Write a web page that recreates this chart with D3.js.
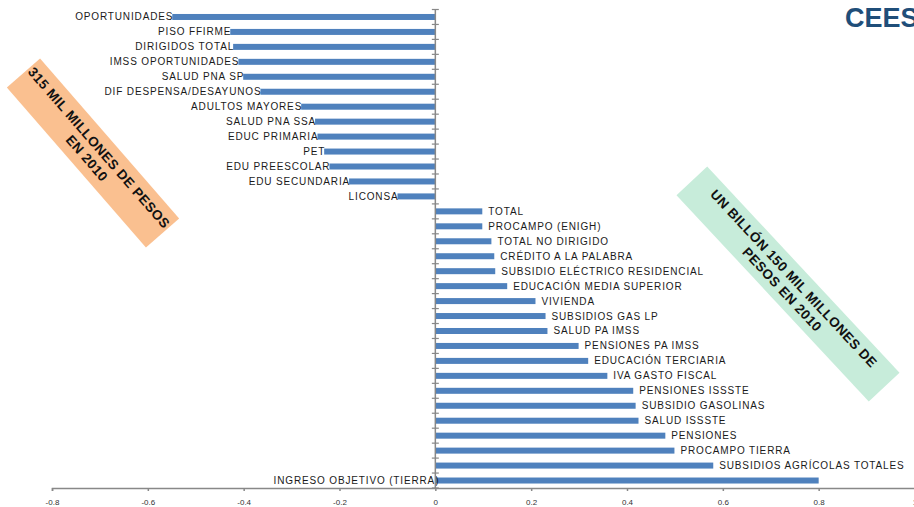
<!DOCTYPE html>
<html>
<head>
<meta charset="utf-8">
<script src="https://cdn.jsdelivr.net/npm/d3@7"></script>
<style>
  body { margin: 0; background: #fff; }
  svg { display: block; font-family: "Liberation Sans", Arial, sans-serif; }
  .lbl { font-size: 10px; letter-spacing: 0.85px; fill: #1a1a1a; }
  .xaxis text { font-size: 8px; fill: #333; }
  .box text { font-size: 13.5px; font-weight: bold; letter-spacing: 0.5px; fill: #111; }
</style>
</head>
<body>
<div id="chart"></div>
<script>
// categories top to bottom
var categories = [
  "OPORTUNIDADES", "PISO FFIRME", "DIRIGIDOS TOTAL", "IMSS OPORTUNIDADES",
  "SALUD PNA SP", "DIF DESPENSA/DESAYUNOS", "ADULTOS MAYORES", "SALUD PNA SSA",
  "EDUC PRIMARIA", "PET", "EDU PREESCOLAR", "EDU SECUNDARIA", "LICONSA",
  "TOTAL", "PROCAMPO (ENIGH)", "TOTAL NO DIRIGIDO", "CRÉDITO A LA PALABRA",
  "SUBSIDIO ELÉCTRICO RESIDENCIAL", "EDUCACIÓN MEDIA SUPERIOR", "VIVIENDA",
  "SUBSIDIOS GAS LP", "SALUD PA IMSS", "PENSIONES PA IMSS", "EDUCACIÓN TERCIARIA",
  "IVA GASTO FISCAL", "PENSIONES ISSSTE", "SUBSIDIO GASOLINAS", "SALUD ISSSTE",
  "PENSIONES", "PROCAMPO TIERRA", "SUBSIDIOS AGRÍCOLAS TOTALES", "INGRESO OBJETIVO (TIERRA)"
];
var values = [
  -0.549, -0.428, -0.422, -0.411, -0.401, -0.365, -0.280, -0.251,
  -0.246, -0.232, -0.221, -0.180, -0.079,
  0.098, 0.098, 0.117, 0.123, 0.125, 0.150, 0.209, 0.230, 0.234,
  0.299, 0.319, 0.359, 0.413, 0.418, 0.424, 0.480, 0.499, 0.580, 0.800
];
var xTicks = [-0.8, -0.6, -0.4, -0.2, 0, 0.2, 0.4, 0.6, 0.8, 1];
var noteLeft = ["315 MIL MILLONES DE PESOS", "EN 2010"];
var noteRight = ["UN BILLÓN 150 MIL MILLONES DE", "PESOS EN 2010"];

var W = 914, H = 507;
var data = categories.map(function(c, i){ return {key: c, value: values[i]}; });

var svg = d3.select("#chart").append("svg").attr("width", W).attr("height", H);

var x = d3.scaleLinear().domain([-0.8, 1]).range([52, 914.5]);
var band = d3.scaleBand().domain(categories).range([9.5, 488]);

// bars
svg.selectAll(".bar").data(data).enter().append("rect")
  .attr("class", "bar")
  .attr("x", function(d){ return x(Math.min(0, d.value)); })
  .attr("width", function(d){ return Math.abs(x(d.value) - x(0)); })
  .attr("y", function(d){ return band(d.key) + band.bandwidth()/2 - 3; })
  .attr("height", 6)
  .attr("fill", "#4f81bd");

// category labels next to bar ends
var last = categories[categories.length - 1];
svg.selectAll(".lbl").data(data).enter().append("text")
  .attr("class", "lbl")
  .attr("x", function(d){
    if (d.key === last) return x(0) + 4;
    return d.value < 0 ? x(d.value) + 1 : x(d.value) + 6;
  })
  .attr("y", function(d){ return band(d.key) + band.bandwidth()/2; })
  .attr("dy", "0.35em")
  .attr("text-anchor", function(d){ return (d.value < 0 || d.key === last) ? "end" : "start"; })
  .text(function(d){ return d.key; });

// x axis
var xAxis = svg.append("g").attr("class", "xaxis")
  .attr("transform", "translate(0," + 488 + ")")
  .call(d3.axisBottom(x).tickValues(xTicks).tickSize(3).tickPadding(8)
    .tickFormat(function(d){ return d === 0 ? "0" : String(d); }));
xAxis.select(".domain").attr("stroke", "#888").attr("stroke-width", 1.5);
xAxis.selectAll(".tick line").attr("stroke", "#888").attr("stroke-width", 1.5);

// category axis at zero with cross ticks
var yAxis = svg.append("g");
yAxis.append("line")
  .attr("x1", x(0)).attr("x2", x(0)).attr("y1", 9.5).attr("y2", 488)
  .attr("stroke", "#888").attr("stroke-width", 1.5);
var bounds = categories.map(function(c){ return band(c); }).concat([488]);
yAxis.selectAll(".yt").data(bounds).enter().append("line")
  .attr("x1", x(0) - 3.5).attr("x2", x(0) + 3.5)
  .attr("y1", function(d){ return d; }).attr("y2", function(d){ return d; })
  .attr("stroke", "#888").attr("stroke-width", 1.2);

// rotated note boxes
function note(lines, cx, cy, angle, w, h, fill) {
  var g = svg.append("g").attr("class", "box")
    .attr("transform", "translate(" + cx + "," + cy + ") rotate(" + angle + ")");
  g.append("rect").attr("x", -w/2).attr("y", -h/2).attr("width", w).attr("height", h).attr("fill", fill);
  g.selectAll("text").data(lines).enter().append("text")
    .attr("text-anchor", "middle")
    .attr("y", function(d, i){ return (i - (lines.length - 1)/2) * 16; })
    .attr("dy", "0.35em")
    .text(function(d){ return d; });
}
note(noteLeft, 93, 153, 49, 212, 44, "#fac090");
note(noteRight, 788, 284, 47, 282, 42, "#c7ecda");

// logo text
svg.append("text").attr("x", 845).attr("y", 27)
  .attr("font-size", 27).attr("font-weight", "bold").attr("fill", "#1f4e79")
  .attr("font-family", "Liberation Sans, Arial, sans-serif")
  .text("CEES");
</script>
</body>
</html>
